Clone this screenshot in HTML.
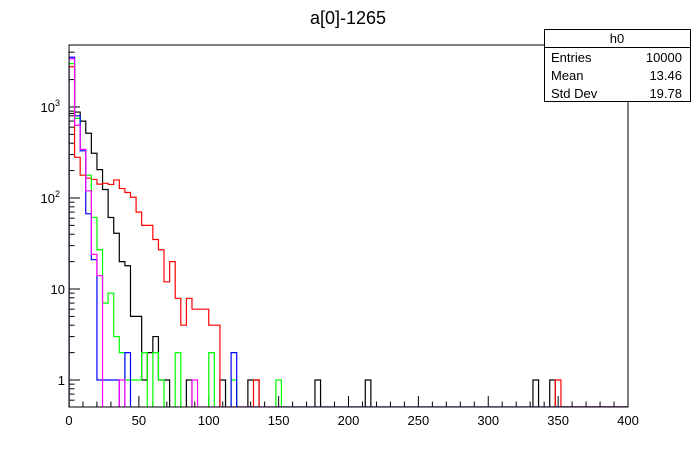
<!DOCTYPE html>
<html><head><meta charset="utf-8">
<style>
html,body{margin:0;padding:0;background:#fff;}
svg{display:block;font-family:"Liberation Sans",Arial,sans-serif;}
</style></head>
<body>
<svg id="chart" width="698" height="453" viewBox="0 0 698 453" xmlns="http://www.w3.org/2000/svg">
<rect x="0" y="0" width="698" height="453" fill="#fff"/>
<text x="348" y="24" font-size="18" text-anchor="middle">a[0]-1265</text>
<g id="ticks"></g>
<g id="series"></g>
<rect x="69" y="45" width="559" height="362" fill="none" stroke="#000" stroke-width="1"/>
<g>
<rect x="544.5" y="29.5" width="146" height="72" fill="#fff" stroke="#000"/>
<line x1="544.5" y1="47.5" x2="690.5" y2="47.5" stroke="#000"/>
<text x="617" y="43" font-size="13" text-anchor="middle">h0</text>
<text x="551" y="62" font-size="13">Entries</text>
<text x="682" y="62" font-size="13" text-anchor="end">10000</text>
<text x="551" y="80" font-size="13">Mean</text>
<text x="682" y="80" font-size="13" text-anchor="end">13.46</text>
<text x="551" y="98" font-size="13">Std Dev</text>
<text x="682" y="98" font-size="13" text-anchor="end">19.78</text>
</g>
</svg>
<script>
const xTickLabels = [0,50,100,150,200,250,300,350,400];
const yTickValues = [1,10,100,1000];
const yTickLabels = ["1","10","10²","10³"];
const binWidth = 4;
const blackCounts = [850,880,700,515,310,205,124,61,41,20,18,5,5,1,2,3,1,1,0,0,0,1,0,0,0,0,0,1,0,0,0,0,1,1,0,0,0,0,0,0,0,0,0,0,1,0,0,0,0,0,0,0,0,1,0,0,0,0,0,0,0,0,0,0,0,0,0,0,0,0,0,0,0,0,0,0,0,0,0,0,0,0,0,1,0,0,1];
const redCounts = [2770,280,178,165,160,142,145,141,158,127,115,102,70,50,50,35,27,12,20,7.9,4,7.9,6,6,6,4,4,0,0,0,0,0,0,1,0,0,0,0,0,0,0,0,0,0,0,0,0,0,0,0,0,0,0,0,0,0,0,0,0,0,0,0,0,0,0,0,0,0,0,0,0,0,0,0,0,0,0,0,0,0,0,0,0,0,0,0,0,1];
const greenCounts = [3000,750,340,178,61,27,7,9,3,2,1,1,1,2,0,2,1,0,0,2,0,0,0,0,0,2,0,0,0,1,0,0,0,0,0,0,0,1];
const blueCounts = [3520,800,330,67,21,1,1,1,1,0,2,0,0,0,0,0,0,0,0,0,0,0,0,0,0,0,0,0,0,2];
const magentaCounts = [3390,630,342,120,24,14,0,0,0,1,0,0,0,0,0,0,0,0,0,0,0,0,1];

const X0=69,X1=628,Y0=407,Y1=45,XMIN=0,XMAX=400,YMIN=0.505,YMAX=4800;
const xs=v=>X0+(v-XMIN)/(XMAX-XMIN)*(X1-X0);
const ys=v=>Y0-(Math.log10(v)-Math.log10(YMIN))/(Math.log10(YMAX)-Math.log10(YMIN))*(Y0-Y1);
const NS="http://www.w3.org/2000/svg";
const tk=document.getElementById('ticks');
function mk(tag,attrs,parent){const e=document.createElementNS(NS,tag);for(const k in attrs)e.setAttribute(k,attrs[k]);parent.appendChild(e);return e;}
// x ticks
for(let v=0;v<=400;v+=10){
  const major=v%50===0;
  const l=mk('line',{x1:xs(v),x2:xs(v),y1:Y0,y2:Y0-(major?11:5.5),stroke:'#000'},tk);
  
  
}
xTickLabels.forEach(v=>{
  const t=mk('text',{x:xs(v),y:425,'font-size':13,'text-anchor':'middle'},tk);
  t.textContent=v;
  
  
});
// y ticks
for(let d=0.1;d<=1000;d*=10){
  for(let m=1;m<10;m++){
    const v=d*m; if(v<YMIN||v>YMAX) continue;
    const major=m===1;
    const l=mk('line',{x1:X0,x2:X0+(major?11:5.5),y1:ys(v),y2:ys(v),stroke:'#000'},tk);
    
    
  }
}
yTickValues.forEach((v,i)=>{
  const t=mk('text',{x:X0-4,y:ys(v)+5,'font-size':13,'text-anchor':'end'},tk);
  const lab=yTickLabels[i];
  if(lab.length>2){
    t.textContent='10';
    const s=mk('tspan',{dy:-6,'font-size':9},t);
    s.textContent=lab==='10²'?'2':'3';
    t.setAttribute('x',X0-9);
  } else t.textContent=lab;
  
  
});
// series
const sg=document.getElementById('series');
const clip=mk('clipPath',{id:'clipf'},sg);
mk('rect',{x:X0,y:Y1,width:X1-X0,height:Y0-Y1},clip);
function drawHist(counts,color,name){
  let d='M'+xs(0)+','+Y0;
  counts.forEach((c,i)=>{
    const y=c>0?ys(c):Y0+2;
    d+=' L'+xs(i*binWidth)+','+y+' L'+xs((i+1)*binWidth)+','+y;
  });
  d+=' L'+xs(counts.length*binWidth)+','+Y0+' L'+xs(400)+','+Y0;
  const p=mk('path',{d:d,fill:'none',stroke:color,'stroke-width':1.2,'clip-path':'url(#clipf)'},sg);
  
  
}
drawHist(blackCounts,'#000','series-black');
drawHist(redCounts,'#ff0000','series-red');
drawHist(greenCounts,'#00ff00','series-green');
drawHist(blueCounts,'#0000ff','series-blue');
drawHist(magentaCounts,'#ff00ff','series-magenta');
</script>
</body></html>
